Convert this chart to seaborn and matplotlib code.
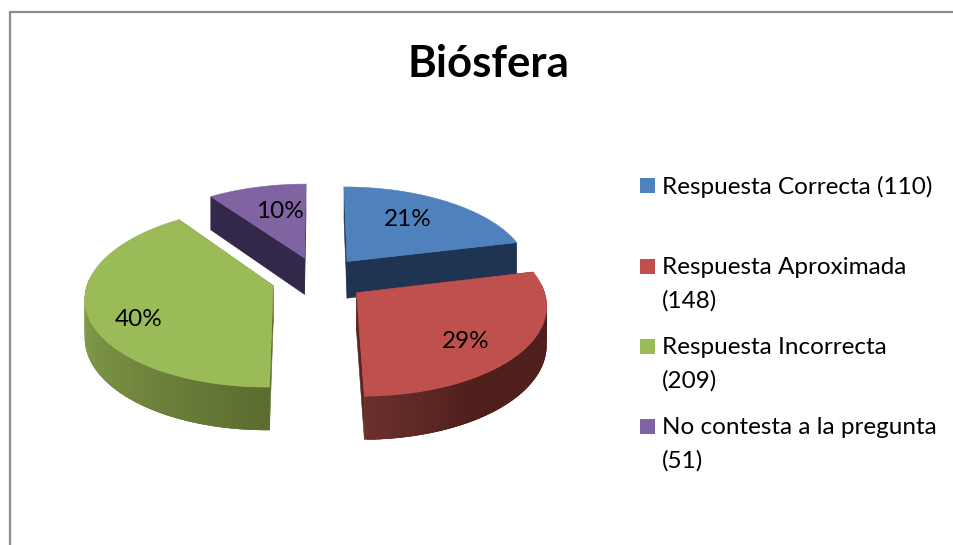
#!/usr/bin/env python3

import matplotlib
matplotlib.use("Agg")
import matplotlib.pyplot as plt
import seaborn as sns
import numpy as np

# ===================== DATOS =====================

title = "Biósfera"
categories = ["Respuesta Correcta (110)", "Respuesta Aproximada\n(148)",
              "Respuesta Incorrecta\n(209)", "No contesta a la pregunta\n(51)"]
counts = [110, 148, 209, 51]
percent_labels = ["21%", "29%", "40%", "10%"]

top_colors = ["#4f81bd", "#c0504d", "#9bbb59", "#8064a2"]
edge_colors = ["#1f3450", "#5a2623", "#5c6e31", "#33274a"]
wall_stops = [["#1f3450", "#1f3450"],
              ["#6c302c", "#4f1f1c", "#4f1f1c", "#4f1f1c"],
              ["#8ba351", "#748b40", "#5b6d30"],
              ["#33274a", "#33274a"]]

# Proyección del plano de la torta a píxeles
CX, CY = 318.5, 278.7
A, B = 184.5, 87.4
K = 0.12
DEPTH = 37.5
EXPLODE = 0.256


def project(x, y, drop=False):
    x, y = np.asarray(x, dtype=float), np.asarray(y, dtype=float)
    w = 1 + K * y
    sx = CX + A * x / w
    sy = CY - B * y / w
    if drop:
        sy = sy + DEPTH / w
    return sx, sy


def draw_slice(ax, wedge, top, edge, stops):
    cx, cy = wedge.center
    r = wedge.r
    th = np.radians(np.linspace(wedge.theta1, wedge.theta2, 160))
    xs = cx + r * np.cos(th)
    ys = cy + r * np.sin(th)

    # Pared exterior con degradado; cada tramo pisa al anterior para evitar costuras
    keep = np.where(np.sin(th) < 0.1)[0]
    if len(keep) > 1:
        pal = sns.blend_palette(stops, len(keep) - 1)
        for n, i in enumerate(keep[:-1]):
            j = min(i + 3, keep[-1])
            qx, qy = project(xs[i:j + 1], ys[i:j + 1])
            bx, by = project(xs[i:j + 1][::-1], ys[i:j + 1][::-1], drop=True)
            ax.fill(np.r_[qx, bx], np.r_[qy, by], color=pal[n], lw=0, zorder=2)

    # Caras de corte
    for k in (0, -1):
        ex, ey = np.array([cx, xs[k]]), np.array([cy, ys[k]])
        qx, qy = project(ex, ey)
        bx, by = project(ex[::-1], ey[::-1], drop=True)
        ax.fill(np.r_[qx, bx], np.r_[qy, by], color=edge, lw=0.4, zorder=2)

    # Cara superior
    px, py = project(np.r_[cx, xs], np.r_[cy, ys])
    ax.fill(px, py, color=top, lw=0.4, zorder=2)


def main():
    sns.set_theme(style="white")
    plt.rcParams["font.family"] = ["Lato", "DejaVu Sans"]

    fig = plt.figure(figsize=(9.54, 5.45), dpi=100)
    ax = fig.add_axes([0, 0, 1, 1])

    wedges, _ = ax.pie(counts, explode=[EXPLODE] * len(counts), startangle=90,
                       counterclock=False, radius=1, colors=top_colors)
    layout = list(wedges)
    for w in layout:
        w.remove()
    ax.set_aspect("auto")
    ax.set_xlim(0, 954)
    ax.set_ylim(545, 0)
    ax.axis("off")

    # De atrás hacia adelante: morado, azul, verde, rojo
    for idx in (3, 0, 2, 1):
        draw_slice(ax, layout[idx], top_colors[idx], edge_colors[idx], wall_stops[idx])

    # Etiquetas de porcentaje
    label_pos = [(408, 220), (466, 342), (139, 320), (280, 212)]
    for text, (lx, ly) in zip(percent_labels, label_pos):
        ax.text(lx, ly, text, fontsize=17.5, ha="center", va="center", color="black", zorder=3)

    ax.text(488.5, 64, title, fontsize=31.5, fontweight="bold", ha="center", va="center", color="black")

    # Leyenda
    legend_y = [187, 268, 348, 428]
    line_h = 32.5
    for cat, col, ly in zip(categories, top_colors, legend_y):
        ax.fill([640, 655, 655, 640], [ly - 9, ly - 9, ly + 6, ly + 6], color=col, lw=0)
        for n, part in enumerate(cat.split("\n")):
            ax.text(662, ly + n * line_h, part, fontsize=17.5, ha="left", va="center", color="black")

    # Marco del gráfico
    ax.plot([10, 10, 954], [545, 12, 12], color="#8c8c8c", lw=1.6, solid_joinstyle="miter")

    fig.savefig("out.png", dpi=100)
    plt.close("all")


if __name__ == "__main__":
    main()
